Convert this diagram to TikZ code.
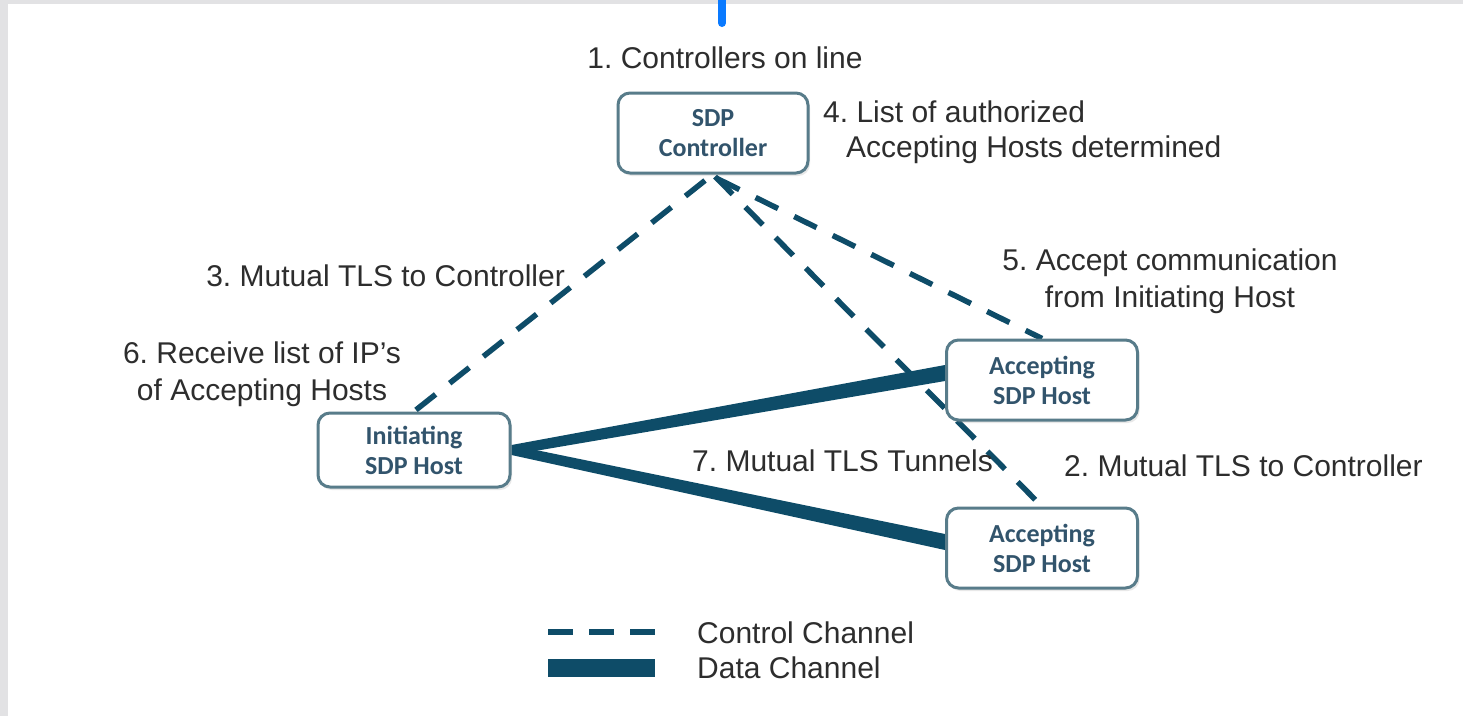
\documentclass[tikz,border=0pt]{standalone}
\usepackage{fontspec}
\setmainfont{Liberation Sans}
\newfontfamily\boxfont{Carlito}
\usetikzlibrary{calc,shadows}
\frenchspacing

\definecolor{chan}{RGB}{14,76,104}
\definecolor{boxline}{RGB}{88,124,138}
\definecolor{boxtext}{RGB}{50,84,108}
\definecolor{labeltext}{RGB}{45,45,45}
\definecolor{marker}{RGB}{10,122,255}
\definecolor{frame}{RGB}{226,226,228}

\pgfdeclarelayer{bottom}
\pgfdeclarelayer{channels}
\pgfsetlayers{bottom,channels,main}

\tikzset{
  hostbox/.style={draw=boxline, line width=3pt, rounded corners=12pt, fill=white,
    minimum width=191pt, minimum height=80pt, inner sep=0pt, align=center,
    font=\boxfont\bfseries\fontsize{26}{30}\selectfont, text=boxtext,
    drop shadow={shadow xshift=2pt, shadow yshift=-3pt, opacity=0.18}},
  lbl/.style={inner sep=0pt, text=labeltext, font=\fontsize{30}{37}\selectfont},
  control/.style={draw=chan, line width=5.5pt, dash pattern=on 25pt off 18pt},
  data/.style={fill=chan},
}

\begin{document}
\begin{tikzpicture}[x=1pt, y=-1pt]
\useasboundingbox (0,0) rectangle (1463,716);
% page background with a light frame on the left and top
\begin{pgfonlayer}{bottom}
\fill[frame] (0,0) rectangle (1463,716);
\fill[white] (8,4) rectangle (1463,716);
\end{pgfonlayer}
\draw[marker, line width=8pt, line cap=round] (722,-10) -- (722,23);

% hosts and controller
\node[hostbox, minimum width=190pt] (ctrl) at (713,133) {SDP\\Controller};
\node[hostbox, minimum width=192pt, minimum height=74pt] (init) at (414,450) {Initiating\\SDP Host};
\node[hostbox] (acc1) at (1042,380) {Accepting\\SDP Host};
\node[hostbox] (acc2) at (1042,548) {Accepting\\SDP Host};

\begin{pgfonlayer}{channels}
% control channels
\draw[control] ($(ctrl.south)+(-8,6)$) -- (init.north);
\draw[control] ($(ctrl.south)+(4,4)$) -- (acc1.north);
\draw[control] ($(ctrl.south)+(2,2)$) -- (acc2.north);

% data channels (tapered tunnels)
\fill[data] ($(init.east)+(0,-5)$) -- ($(acc1.west)+(0,-15)$) -- ($(acc1.west)+(0,1)$) -- ($(init.east)+(0,5)$) -- cycle;
\fill[data] ($(init.east)+(0,-5)$) -- ($(acc2.west)+(0,-14)$) -- ($(acc2.west)+(0,2)$) -- ($(init.east)+(0,5)$) -- cycle;
\end{pgfonlayer}

% step labels
\node[lbl] (s1) at (725,58) {1. Controllers on line};
\node[lbl, anchor=west] (s4a) at (823,112) {4. List of authorized};
\node[lbl, anchor=west] (s4b) at (846,150) {Accepting Hosts determined};
\node[lbl, anchor=east] (s3) at (565,276) {3. Mutual TLS to Controller};
\node[lbl, align=center] (s6) at (262,374) {6. Receive list of IP's\\of Accepting Hosts};
\node[lbl, align=center] (s5) at (1170,281) {5. Accept communication\\from Initiating Host};
\node[lbl, anchor=west] (s7) at (692,461) {7. Mutual TLS Tunnels};
\node[lbl, anchor=west] (s2) at (1064,466) {2. Mutual TLS to Controller};

% legend
\coordinate (lc1) at (548,632);
\coordinate (lc2) at (655,632);
\coordinate (ld1) at (548,668);
\coordinate (ld2) at (655,668);
\draw[chan, line width=6pt, dash pattern=on 25pt off 16pt] (lc1) -- (lc2);
\draw[chan, line width=18pt] (ld1) -- (ld2);
\node[lbl, anchor=west] (lgc) at (697,633) {Control Channel};
\node[lbl, anchor=west] (lgd) at (697,668) {Data Channel};
\end{tikzpicture}
\end{document}
